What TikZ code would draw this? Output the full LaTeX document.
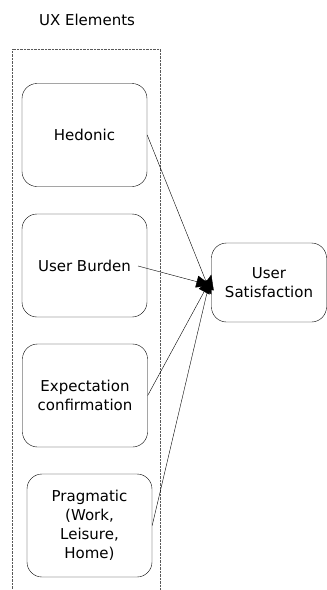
\documentclass[tikz,border=0pt]{standalone}
\usepackage{fontspec}
\setmainfont{DejaVu Sans}
\usetikzlibrary{arrows.meta, positioning}

\tikzset{
  elem/.style={draw, rounded corners=15pt, minimum width=125pt, minimum height=103pt,
    align=center, font=\fontsize{15}{19}\selectfont, inner sep=2pt},
  link/.style={-{Triangle[length=15pt,width=12pt]}, thin},
}

\begin{document}
\begin{tikzpicture}[x=1pt, y=-1pt]
\useasboundingbox (0,0) rectangle (327,590);
% --- group frame ---
\draw[densely dotted, gray!70!black] (12,600) -- (12,49) -- (160,49) -- (160,600);
\node[font=\fontsize{15}{19}\selectfont] (title) at (87,20) {UX Elements};
% --- elements ---
\node[elem] (hed) at (84.5,135) {Hedonic};
\node[elem] (burden) at (84.5,265.5) {User Burden};
\node[elem] (expect) at (85,395.5) {Expectation\\confirmation};
\node[elem] (prag) at (89.5,525.5) {Pragmatic\\(Work,\\Leisure,\\Home)};
\node[elem, minimum width=115pt, minimum height=79pt] (sat) at (269,282.5) {User\\Satisfaction};
% --- links ---
\coordinate (burdenout) at (138,266);
\draw[link] (hed.east) -- ([yshift=-12pt]sat.west);
\draw[link] (burdenout) -- ([yshift=-3pt]sat.west);
\draw[link] (expect.east) -- ([yshift=4pt]sat.west);
\draw[link] (prag.east) -- ([yshift=8pt]sat.west);
\end{tikzpicture}
\end{document}
